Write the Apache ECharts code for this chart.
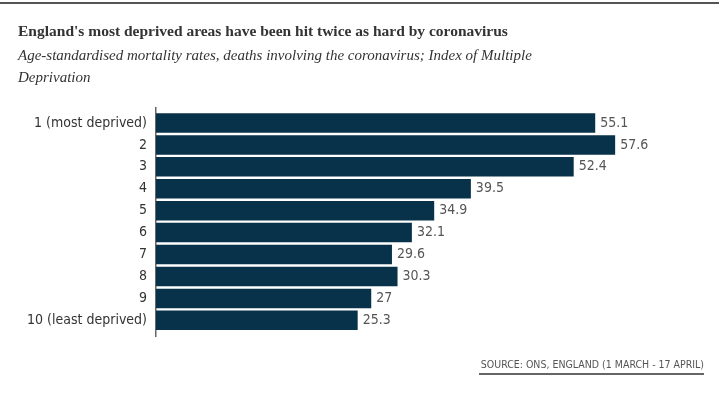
<!DOCTYPE html>
<html><head><meta charset="utf-8">
<script src="https://cdn.jsdelivr.net/npm/echarts@6/dist/echarts.min.js"></script>
<style>html,body{margin:0;padding:0;background:#fff}#c{width:719px;height:394px}</style>
</head><body><div id="c"></div>
<script>
const categories = ["1 (most deprived)","2","3","4","5","6","7","8","9","10 (least deprived)"];
const values = [55.1,57.6,52.4,39.5,34.9,32.1,29.6,30.3,27,25.3];
const titleText = "England's most deprived areas have been hit twice as hard by coronavirus";
const subtitleText = "Age-standardised mortality rates, deaths involving the coronavirus; Index of Multiple\nDeprivation";
const sourceText = "SOURCE: ONS, ENGLAND (1 MARCH - 17 APRIL)";

const chart = echarts.init(document.getElementById('c'), null, {renderer:'canvas'});
const sans = '"Liberation Sans Narrow","DejaVu Sans Condensed",sans-serif';
chart.setOption({
  animation:false,
  backgroundColor:'#fff',
  grid:{left:156, top:112, height:219.3, width:558, containLabel:false},
  xAxis:{type:'value', min:0, max:70, show:false},
  yAxis:{type:'category', data:categories, inverse:true,
    axisLine:{show:false}, axisTick:{show:false},
    axisLabel:{color:'#333', fontFamily:sans, fontSize:14, margin:9}},
  series:[{type:'bar', data:values, barCategoryGap:'11%',
    itemStyle:{color:'#073249'},
    label:{show:true, position:'right', distance:5, color:'#555', fontFamily:sans, fontSize:14}}],
  graphic:[
    {type:'rect', shape:{x:0,y:2,width:719,height:2}, style:{fill:'#555'}},
    {type:'text', left:18, top:24, style:{text:titleText, font:'bold 15.5px "Liberation Serif", serif', fill:'#333'}},
    {type:'text', left:18, top:45, style:{text:subtitleText, font:'italic 15px "Liberation Serif", serif', fill:'#333', lineHeight:22}},
    {type:'rect', shape:{x:155,y:107,width:1.5,height:230}, style:{fill:'#666'}},
    {type:'text', right:15, top:360, style:{text:sourceText, font:'10.5px '+sans, fill:'#555'}},
    {type:'rect', shape:{x:479,y:373,width:225,height:2}, style:{fill:'#666'}}
  ]
});
</script></body></html>
